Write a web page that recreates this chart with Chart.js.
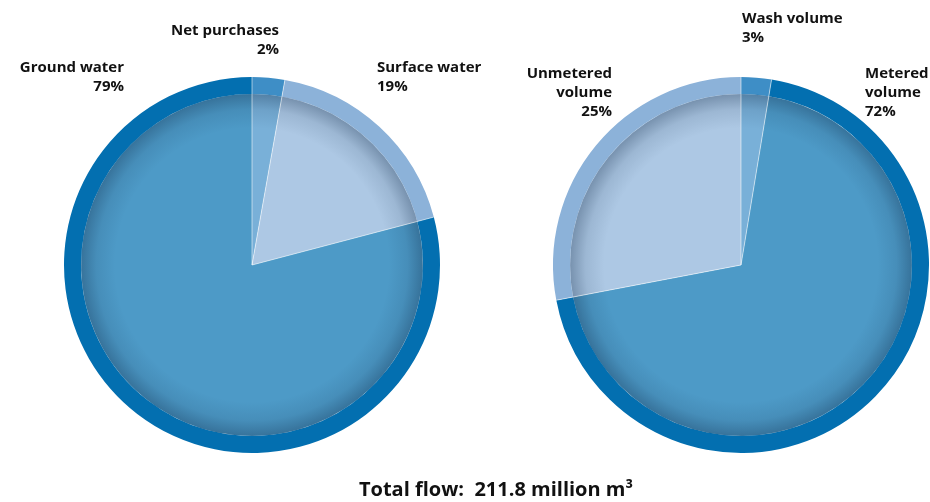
<!DOCTYPE html>
<html>
<head>
<meta charset="utf-8">
<script src="https://cdn.jsdelivr.net/npm/chart.js@4.4.0/dist/chart.umd.min.js"></script>
<style>
  html, body { margin: 0; padding: 0; background: #fff; }
  #wrap { position: relative; width: 930px; height: 502px; }
  #left { position: absolute; left: 0; top: 0; width: 497px; height: 502px; }
  #right { position: absolute; left: 497px; top: 0; width: 433px; height: 502px; }
  #title {
    position: absolute; left: 300px; width: 392px; top: 475px;
    text-align: center; font: bold 20px "Open Sans", sans-serif; color: #111;
  }
</style>
</head>
<body>
<div id="wrap">
  <div id="left"><canvas id="supplyChart"></canvas></div>
  <div id="right"><canvas id="useChart"></canvas></div>
  <div id="title">Total flow:&nbsp; 211.8 million m³</div>
</div>
<script>
// Source side (left pie)
const supplyLabels = [['Net purchases'], ['Surface water'], ['Ground water']];
const supplyPct = ['2%', '19%', '79%'];
const supplyShare = [2.8, 18.1, 79.1];

// Use side (right pie)
const useLabels = [['Wash volume'], ['Metered', 'volume'], ['Unmetered', 'volume']];
const usePct = ['3%', '72%', '25%'];
const useShare = [2.6, 69.4, 28.0];

// colours: outer ring / inner fill
const supplyRing = ['#3e8ec6', '#8cb2d9', '#036fb0'];
const supplyFill = ['#79b0d8', '#adc8e4', '#4d9ac7'];
const useRing = ['#3e8ec6', '#036fb0', '#8cb2d9'];
const useFill = ['#79b0d8', '#4d9ac7', '#adc8e4'];

// label anchors relative to pie centre
const supplyLabelPos = [
    { dx: 27, dy: -234, align: 'right' },
    { dx: 125, dy: -197, align: 'left' },
    { dx: -128, dy: -197, align: 'right' }
];
const useLabelPos = [
    { dx: 1, dy: -246, align: 'left' },
    { dx: 124, dy: -191, align: 'left' },
    { dx: -129, dy: -191, align: 'right' }
];

// Inner shadow, slice separators and outside labels
const pieDecor = {
    id: 'pieDecor',
    afterDatasetsDraw(chart, args, opts) {
        const ctx = chart.ctx;
        const inner = chart.getDatasetMeta(1).data;
        const outer = chart.getDatasetMeta(0).data;
        if (!inner.length) return;
        const cx = inner[0].x, cy = inner[0].y;
        const rIn = inner[0].outerRadius;
        const rOut = outer[0].outerRadius;

        ctx.save();
        ctx.beginPath();
        ctx.arc(cx, cy, rIn, 0, Math.PI * 2);
        ctx.clip();
        const g = ctx.createRadialGradient(cx, cy, rIn - 34, cx, cy, rIn);
        g.addColorStop(0, 'rgba(10,35,65,0)');
        g.addColorStop(0.55, 'rgba(10,35,65,0.1)');
        g.addColorStop(1, 'rgba(10,35,65,0.33)');
        ctx.fillStyle = g;
        ctx.fillRect(cx - rIn, cy - rIn, rIn * 2, rIn * 2);
        ctx.restore();

        ctx.save();
        ctx.strokeStyle = 'rgba(255,255,255,0.55)';
        ctx.lineWidth = 1;
        inner.forEach(function(arc) {
            ctx.beginPath();
            ctx.moveTo(cx, cy);
            ctx.lineTo(cx + Math.cos(arc.startAngle) * rOut, cy + Math.sin(arc.startAngle) * rOut);
            ctx.stroke();
        });
        ctx.restore();

        ctx.save();
        ctx.fillStyle = '#111';
        ctx.font = 'bold 15px "Open Sans", sans-serif';
        ctx.textBaseline = 'middle';
        opts.names.forEach(function(lines, i) {
            const p = opts.pos[i];
            const all = lines.concat([opts.pct[i]]);
            ctx.textAlign = p.align;
            all.forEach(function(t, j) {
                ctx.fillText(t, cx + p.dx, cy + p.dy + j * 19);
            });
        });
        ctx.restore();
    }
};

function makePie(canvasId, share, ring, fill, names, pct, pos, padLeft, padRight) {
    return new Chart(document.getElementById(canvasId), {
        type: 'pie',
        data: {
            labels: names.map(function(n) { return n.join(' '); }),
            datasets: [
                { data: share, backgroundColor: ring, borderWidth: 0, weight: 17 },
                { data: share, backgroundColor: fill, borderWidth: 0, weight: 170 }
            ]
        },
        options: {
            responsive: true,
            maintainAspectRatio: false,
            animation: false,
            layout: { padding: { left: padLeft, right: padRight, top: 77, bottom: 49 } },
            plugins: {
                legend: { display: false },
                tooltip: { enabled: false },
                pieDecor: { names: names, pct: pct, pos: pos }
            }
        },
        plugins: [pieDecor]
    });
}

makePie('supplyChart', supplyShare, supplyRing, supplyFill, supplyLabels, supplyPct, supplyLabelPos, 64, 57);
makePie('useChart', useShare, useRing, useFill, useLabels, usePct, useLabelPos, 56, 1);
</script>
</body>
</html>
